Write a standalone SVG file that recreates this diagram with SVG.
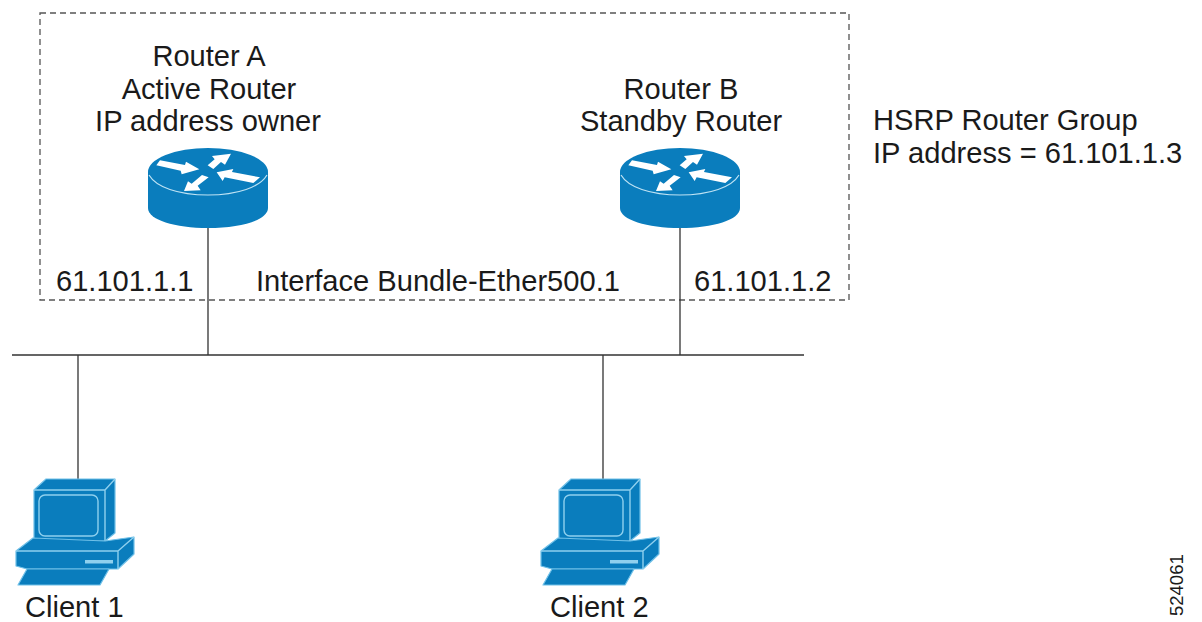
<svg xmlns="http://www.w3.org/2000/svg" xmlns:xlink="http://www.w3.org/1999/xlink" width="1202" height="622" viewBox="0 0 1202 622">
<style>
text{font-family:"Liberation Sans",Arial,sans-serif;font-size:29.1px;fill:#1a1a1a}
.m{text-anchor:middle}
.line{stroke:#333;stroke-width:1.3;fill:none}
.blue{fill:#0a7dbd}
.body{fill:#0a7dbd;stroke:#6fc0e8;stroke-width:1.2;stroke-linejoin:round}
.edge{fill:none;stroke:#8fd0ee;stroke-width:1.4;stroke-linejoin:round}
.w{fill:#fff}
</style>
<defs>
<g id="router">
<path class="blue" d="M-60 -12V24C-60 36 -33 44 0 44S60 36 60 24V-12Z"/>
<ellipse class="blue" cx="0" cy="-12" rx="60" ry="24"/>
<path d="M-59 -9C-52 3 -30 11 0 11S52 3 59 -9" fill="none" stroke="#bfe3f4" stroke-width="1.2"/>
<g transform="translate(-78,-44) scale(.3333)">
<polygon class="w" points="90,61 79,76 152,92 155,103 208,88 168,65 165,75"/>
<polygon class="w" points="303,41 246,48 254,58 233,76 250,87 273,66 285,74"/>
<polygon class="w" points="260,97 278,123 284,112 370,129 390,112 306,96 310,87"/>
<polygon class="w" points="162,153 212,151 203,137 236,112 216,105 185,131 174,124"/>
</g>
</g>
<g id="pc">
<polygon class="body" points="34,490 46,479 115,479 115,533 105,541 34,541"/>
<path class="edge" d="M34 490H105V541M105 490L115 479"/>
<rect class="edge" x="39" y="495" width="59" height="41" rx="6"/>
<polygon class="body" points="33,538 16,551 16,566 27,569 118,569 134,554 134,537 105,541"/>
<path class="edge" d="M16 551H118V569M118 551L134 537"/>
<rect x="85" y="560" width="28" height="3.5" fill="#8fd0ee"/>
<polygon class="body" points="27,569 109,569 100,585 18,585"/>
</g>
</defs>
<g id="connectors">
<rect x="40" y="13" width="809" height="287" fill="none" stroke="#555" stroke-width="1.3" stroke-dasharray="6 4"/>
<path class="line" d="M12 355H804M208 228V355M680 228V355M78 355V479M603 355V479"/>
</g>
<g id="router-a">
<use href="#router" xlink:href="#router" x="208" y="184"/>
<text class="m" x="209" y="66">Router A</text>
<text class="m" x="209" y="99">Active Router</text>
<text class="m" x="208" y="131">IP address owner</text>
<text x="56" y="291">61.101.1.1</text>
</g>
<g id="router-b">
<use href="#router" xlink:href="#router" x="680" y="184"/>
<text class="m" x="681" y="99">Router B</text>
<text class="m" x="681" y="131">Standby Router</text>
<text x="694" y="291">61.101.1.2</text>
</g>
<g id="interface"><text x="256" y="291">Interface Bundle-Ether500.1</text></g>
<g id="group-label">
<text x="873" y="130">HSRP Router Group</text>
<text x="873" y="163">IP address = 61.101.1.3</text>
</g>
<g id="client-1">
<use href="#pc" xlink:href="#pc"/>
<text x="25" y="617">Client 1</text>
</g>
<g id="client-2">
<use href="#pc" xlink:href="#pc" x="525"/>
<text x="550" y="617">Client 2</text>
</g>
<g id="figure-id"><text transform="translate(1183,616) rotate(-90)" style="font-size:18.5px">524061</text></g>
</svg>
